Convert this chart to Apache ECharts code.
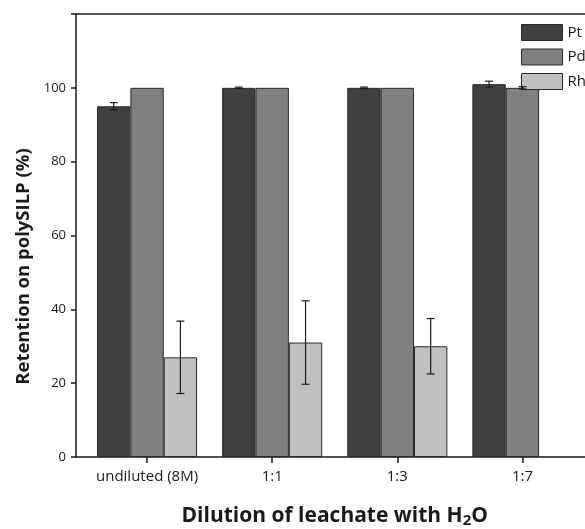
<!DOCTYPE html>
<html>
<head>
<meta charset="utf-8">
<script src="https://cdn.jsdelivr.net/npm/echarts@6/dist/echarts.min.js"></script>
<style>
  html, body { margin: 0; padding: 0; background: #fff; }
  #chart { width: 585px; height: 529px; }
</style>
</head>
<body>
<div id="chart"></div>
<script>
// Retention of platinum-group metals on polySILP at different leachate dilutions
const categories = ['undiluted (8M)', '1:1', '1:3', '1:7'];
const ptValues = [95, 100, 100, 101];
const ptErrors = [1.0, 0.2, 0.2, 0.8];
const pdValues = [100, 100, 100, 100];
const pdErrors = [0, 0, 0, 0.3];
const rhValues = [27, 31, 30, null];
const rhErrors = [9.8, 11.3, 7.5, null];
const yMin = 0, yMax = 120, yStep = 20;
const seriesNames = ['Pt', 'Pd', 'Rh'];

const FONT = 'Open Sans';
const INK = '#1a1a1a';
const colors = ['#404040', '#808080', '#c0c0c0'];

const chart = echarts.init(document.getElementById('chart'));

// error bars drawn at the centre of each bar within its category group
function errorSeries(values, errors, slot) {
  const data = [];
  values.forEach((v, i) => {
    if (v != null && errors[i]) data.push([i, v, errors[i]]);
  });
  return {
    type: 'custom',
    xAxisIndex: 0,
    yAxisIndex: 0,
    z: 5,
    silent: true,
    data: data,
    renderItem: function (params, api) {
      const c = api.value(0), v = api.value(1), e = api.value(2);
      const band = api.size([1, 0])[0];
      const w = band * 0.8 / 3;
      const x = api.coord([c, v])[0] + (slot - 1) * w;
      const yTop = api.coord([c, v + e])[1];
      const yBot = api.coord([c, v - e])[1];
      const cap = 4;
      const style = { stroke: INK, lineWidth: 1.2 };
      return {
        type: 'group',
        children: [
          { type: 'line', shape: { x1: x, y1: yTop, x2: x, y2: yBot }, style: style },
          { type: 'line', shape: { x1: x - cap, y1: yTop, x2: x + cap, y2: yTop }, style: style },
          { type: 'line', shape: { x1: x - cap, y1: yBot, x2: x + cap, y2: yBot }, style: style }
        ]
      };
    }
  };
}

function barSeries(name, values, color) {
  return {
    name: name,
    type: 'bar',
    xAxisIndex: 0,
    yAxisIndex: 0,
    data: values.map(v => (v == null ? '-' : v)),
    barGap: '0%',
    barCategoryGap: '20%',
    itemStyle: { color: color, borderColor: '#2a2a2a', borderWidth: 1 },
    emphasis: { disabled: true }
  };
}

chart.setOption({
  animation: false,
  backgroundColor: '#ffffff',
  textStyle: { fontFamily: FONT },
  grid: [
    // data area
    { left: 84.5, right: 0, top: 14, bottom: 72, outerBoundsMode: 'none', containLabel: false },
    // frame with the value axis
    { left: 76, right: 0, top: 14, bottom: 72, outerBoundsMode: 'none', containLabel: false }
  ],
  legend: {
    orient: 'vertical',
    left: 516,
    top: 19,
    itemWidth: 41,
    itemHeight: 16,
    itemGap: 7.5,
    icon: 'rect',
    data: seriesNames,
    textStyle: { fontFamily: FONT, fontSize: 15, color: INK },
    itemStyle: { borderColor: '#2a2a2a', borderWidth: 1 }
  },
  xAxis: [
    {
      type: 'category',
      gridIndex: 0,
      data: categories,
      axisLine: { show: false },
      axisTick: { show: true, alignWithLabel: true, interval: 0, length: 6, lineStyle: { color: INK, width: 1.5 } },
      axisLabel: { fontFamily: FONT, fontSize: 15, color: INK, margin: 12, interval: 0 },
      name: 'Dilution of leachate with H{sub|2}O',
      nameLocation: 'middle',
      nameGap: 48,
      nameTextStyle: {
        fontFamily: FONT, fontSize: 21, fontWeight: 'bold', color: INK,
        rich: {
          sub: { fontFamily: FONT, fontSize: 15, fontWeight: 'bold', color: INK, verticalAlign: 'bottom', padding: [8, 0, 0, 0] }
        }
      }
    },
    {
      type: 'value', gridIndex: 1, position: 'bottom', min: 0, max: 1,
      axisLine: { show: true, onZero: false, lineStyle: { color: INK, width: 1.5 } },
      axisTick: { show: false }, axisLabel: { show: false }, splitLine: { show: false }
    },
    {
      type: 'value', gridIndex: 1, position: 'top', min: 0, max: 1,
      axisLine: { show: true, onZero: false, lineStyle: { color: INK, width: 1.5 } },
      axisTick: { show: false }, axisLabel: { show: false }, splitLine: { show: false }
    }
  ],
  yAxis: [
    { type: 'value', gridIndex: 0, min: yMin, max: yMax, interval: yStep, show: false },
    {
      type: 'value',
      gridIndex: 1,
      min: yMin,
      max: yMax,
      interval: yStep,
      axisLine: { show: true, onZero: false, lineStyle: { color: INK, width: 1.5 } },
      axisTick: { show: true, length: 5, lineStyle: { color: INK, width: 1.5 } },
      splitLine: { show: false },
      axisLabel: {
        fontFamily: FONT, fontSize: 13, color: INK, margin: 10,
        formatter: v => (v >= yMax ? '' : String(v))
      },
      name: 'Retention on polySILP (%)',
      nameLocation: 'middle',
      nameGap: 40,
      nameTextStyle: { fontFamily: FONT, fontSize: 18.5, fontWeight: 'bold', color: INK, padding: [0, 62, 0, 0] }
    }
  ],
  series: [
    barSeries('Pt', ptValues, colors[0]),
    barSeries('Pd', pdValues, colors[1]),
    barSeries('Rh', rhValues, colors[2]),
    errorSeries(ptValues, ptErrors, 0),
    errorSeries(pdValues, pdErrors, 1),
    errorSeries(rhValues, rhErrors, 2)
  ]
});
</script>
</body>
</html>
